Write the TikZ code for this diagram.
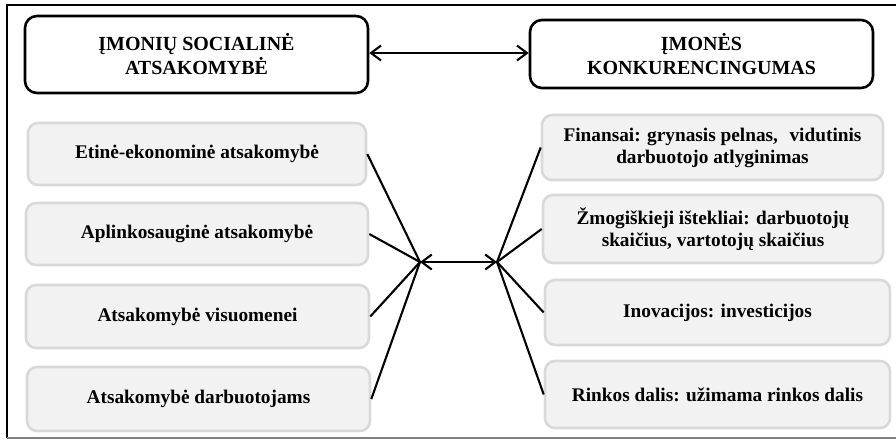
\documentclass[tikz,border=0pt]{standalone}
\usepackage{fontspec}
\setmainfont{Liberation Serif}
\usetikzlibrary{arrows.meta}
\definecolor{boxfill}{HTML}{F2F2F2}
\definecolor{boxline}{HTML}{D9D9D9}
\begin{document}
\begin{tikzpicture}[x=1pt,y=-1pt,
  headbox/.style={draw=black, line width=2.6pt, rounded corners=12pt, fill=white,
    align=center, inner sep=0pt, font=\fontsize{20}{24}\selectfont\bfseries},
  itembox/.style={draw=boxline, line width=2.6pt, rounded corners=10pt, fill=boxfill,
    align=center, inner sep=0pt, font=\fontsize{19.3}{22}\selectfont\bfseries},
  link/.style={line width=2.1pt},
  biarrow/.style={line width=2.1pt, {Straight Barb[length=10pt,width=15pt]}-{Straight Barb[length=10pt,width=15pt]}}
]
\useasboundingbox (0,0) rectangle (896,440);
% outer frame (open on the right)
\draw[line width=2pt] (896,5) -- (7,5) -- (7,438);
\draw[line width=2pt, gray] (7,438) -- (896,438);

% headings
\node[headbox, minimum width=343pt, minimum height=77pt] (csr) at (196.5,54.5)
  {ĮMONIŲ SOCIALINĖ\\ATSAKOMYBĖ};
\node[headbox, minimum width=343pt, minimum height=68pt] (comp) at (701.5,54)
  {ĮMONĖS\\KONKURENCINGUMAS};
\draw[biarrow] (csr.east |- 0,53) -- (comp.west |- 0,53);

% dimensions of social responsibility
\node[itembox, minimum width=338pt, minimum height=62pt] (l1) at (197,154) {Etinė-ekonominė atsakomybė};
\node[itembox, minimum width=342pt, minimum height=62pt] (l2) at (197,234) {Aplinkosauginė atsakomybė};
\node[itembox, minimum width=343pt, minimum height=63pt] (l3) at (197.5,316.5) {Atsakomybė visuomenei};
\node[itembox, minimum width=343pt, minimum height=64pt] (l4) at (198.5,399) {Atsakomybė darbuotojams};

% competitiveness indicators
\node[itembox, minimum width=341pt, minimum height=65pt] (r1) at (712.5,147.5)
  {Finansai: grynasis pelnas,\hspace{0.6em}vidutinis\\darbuotojo atlyginimas};
\node[itembox, minimum width=340pt, minimum height=68pt] (r2) at (713,229)
  {Žmogiškieji ištekliai: darbuotojų\\skaičius, vartotojų skaičius};
\node[itembox, minimum width=345pt, minimum height=65pt] (r3) at (717.5,312.5) {Inovacijos: investicijos};
\node[itembox, minimum width=345pt, minimum height=67pt] (r4) at (717.5,394.5) {Rinkos dalis: užimama rinkos dalis};

% hubs
\coordinate (hl) at (420,262);
\coordinate (hr) at (497,262);
\foreach \n in {l1,l2,l3,l4} \draw[link] (\n.east) -- (hl);
\foreach \n in {r1,r2,r3,r4} \draw[link] (hr) -- (\n.west);
\draw[biarrow] (hl) -- (hr);
\end{tikzpicture}
\end{document}
